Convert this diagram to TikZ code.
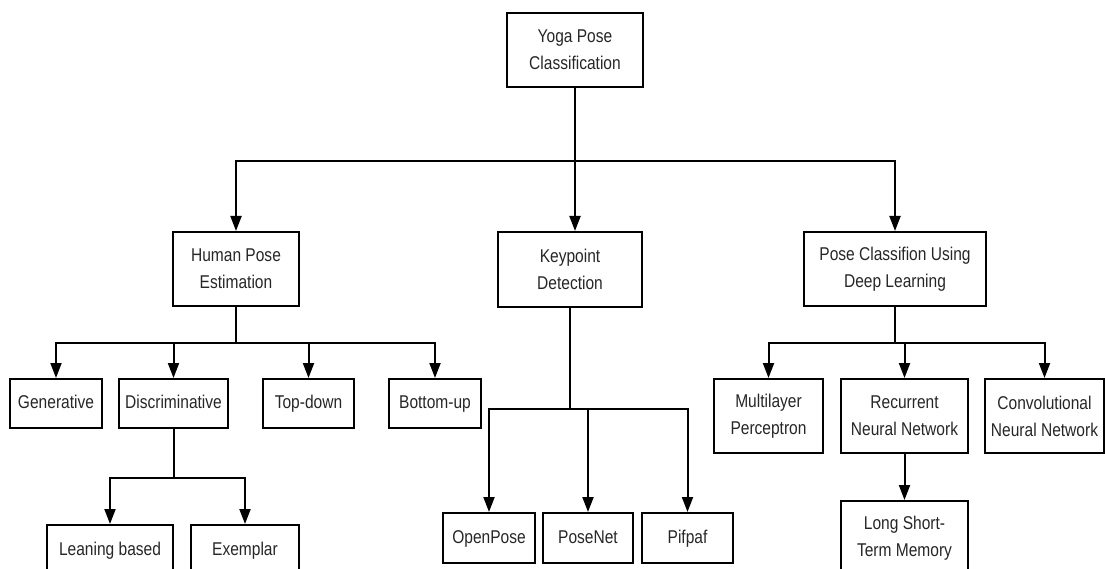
\documentclass[tikz,border=0pt]{standalone}
\usepackage{fontspec}
\setmainfont{Liberation Sans}[FakeStretch=0.84]
\usetikzlibrary{arrows.meta}
\begin{document}
\begin{tikzpicture}[x=1pt, y=-1pt]
		\tikzstyle{box}=[draw,line width=2pt,rectangle,inner sep=0pt,align=center,text=black!85,font=\fontsize{18.5}{27}\selectfont]
		\tikzstyle{arr}=[line width=2pt,-{Triangle[length=15pt,width=11pt]}]
		\useasboundingbox (0,0) rectangle (1105,569);
		\clip (0,0) rectangle (1105,569);
		% top level
		\node[box,minimum width=136pt,minimum height=74pt](root)at(575,50){Yoga Pose\\Classification};
		% second level
		\node[box,minimum width=126pt,minimum height=74pt](hpe)at(236,269){Human Pose\\Estimation};
		\node[box,minimum width=144pt,minimum height=75pt](kd)at(570,269.5){Keypoint\\Detection};
		\node[box,minimum width=182pt,minimum height=74pt](pcdl)at(895,269){Pose Classifion Using\\Deep Learning};
		% pose estimation branch
		\node[box,minimum width=92pt,minimum height=49pt](gen)at(56,403.5){Generative\strut};
		\node[box,minimum width=109pt,minimum height=49pt](disc)at(173.5,403.5){Discriminative\strut};
		\node[box,minimum width=91pt,minimum height=49pt](topd)at(308.5,403.5){Top-down\strut};
		\node[box,minimum width=92pt,minimum height=49pt](botu)at(435,403.5){Bottom-up\strut};
		\node[box,minimum width=126pt,minimum height=50pt](lean)at(110,550){Leaning based\strut};
		\node[box,minimum width=108pt,minimum height=50pt](exem)at(245,550){Exemplar\strut};
		% keypoint branch
		\node[box,minimum width=92pt,minimum height=50pt](opose)at(489,538){OpenPose\strut};
		\node[box,minimum width=90pt,minimum height=50pt](pnet)at(588,538){PoseNet\strut};
		\node[box,minimum width=91pt,minimum height=50pt](pif)at(687.5,538){Pifpaf\strut};
		% deep learning branch
		\node[box,minimum width=109pt,minimum height=74pt](mlp)at(768.5,416){Multilayer\\Perceptron};
		\node[box,minimum width=127pt,minimum height=74pt](rnn)at(904.5,416){Recurrent\\Neural Network};
		\node[box,minimum width=119pt,minimum height=74pt](cnn)at(1044.5,416){Convolutional\\Neural Network};
		\node[box,minimum width=127pt,minimum height=74pt](lstm)at(904.5,538){Long Short-\\Term Memory};
		\draw[arr]{
			(root.south) -- ++(0,73) -| (hpe.north)
		};
		\draw[arr]{
			(root.south) -- (root.south |- kd.north)
		};
		\draw[arr]{
			(root.south) -- ++(0,73) -| (pcdl.north)
		};
		\draw[arr]{
			(hpe.south) -- ++(0,36) -| (gen.north)
		};
		\draw[arr]{
			(hpe.south) -- ++(0,36) -| (disc.north)
		};
		\draw[arr]{
			(hpe.south) -- ++(0,36) -| (topd.north)
		};
		\draw[arr]{
			(hpe.south) -- ++(0,36) -| (botu.north)
		};
		\draw[arr]{
			(disc.south) -- ++(0,49) -| (lean.north)
		};
		\draw[arr]{
			(disc.south) -- ++(0,49) -| (exem.north)
		};
		\draw[arr]{
			(kd.south) -- ++(0,101) -| (opose.north)
		};
		\draw[arr]{
			(kd.south) -- ++(0,101) -| (pnet.north)
		};
		\draw[arr]{
			(kd.south) -- ++(0,101) -| (pif.north)
		};
		\draw[arr]{
			(pcdl.south) -- ++(0,36) -| (mlp.north)
		};
		\draw[arr]{
			(pcdl.south) -- ++(0,36) -| (rnn.north)
		};
		\draw[arr]{
			(pcdl.south) -- ++(0,36) -| (cnn.north)
		};
		\draw[arr]{
			(rnn.south) -- (lstm.north)
		};
\end{tikzpicture}
\end{document}
